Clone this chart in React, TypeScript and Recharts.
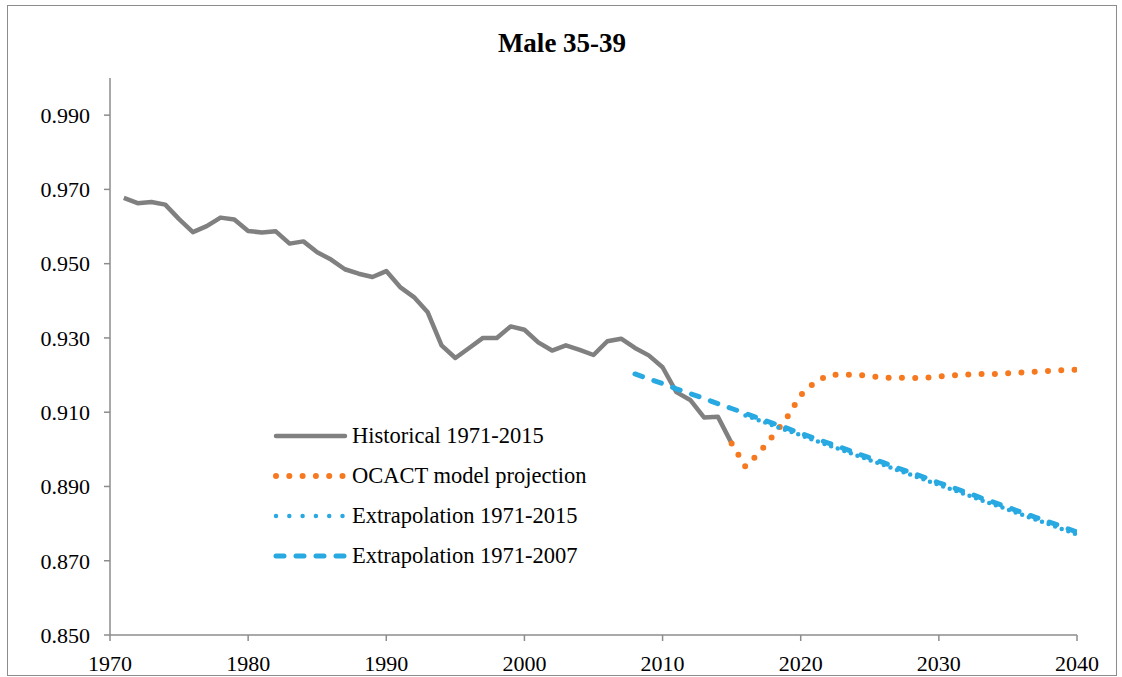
import { LineChart, Line, XAxis, YAxis } from "recharts";

const FONT = "'Liberation Serif', 'Times New Roman', serif";

const histYears = [
  1971, 1972, 1973, 1974, 1975, 1976, 1977, 1978, 1979, 1980, 1981, 1982, 1983, 1984, 1985,
  1986, 1987, 1988, 1989, 1990, 1991, 1992, 1993, 1994, 1995, 1996, 1997, 1998, 1999, 2000,
  2001, 2002, 2003, 2004, 2005, 2006, 2007, 2008, 2009, 2010, 2011, 2012, 2013, 2014, 2015,
];
const historical = [
  0.9677, 0.9663, 0.9666, 0.9659, 0.962, 0.9585, 0.9601, 0.9624, 0.9619, 0.9588, 0.9584,
  0.9587, 0.9554, 0.956, 0.9531, 0.9511, 0.9485, 0.9473, 0.9464, 0.948, 0.9437, 0.941,
  0.9369, 0.928, 0.9246, 0.9273, 0.93, 0.93, 0.9331, 0.9322, 0.9288, 0.9266, 0.928, 0.9268,
  0.9254, 0.9291, 0.9298, 0.9273, 0.9253, 0.9221, 0.9154, 0.9133, 0.9086, 0.9088, 0.9016,
];

// OCACT projection 2015-2040
const ocactStart = 2015;
const ocact = [
  0.9016, 0.8953, 0.8991, 0.9037, 0.9085, 0.9146, 0.918, 0.92, 0.9201, 0.9201, 0.9197,
  0.9193, 0.9193, 0.9192, 0.9193, 0.9196, 0.9199, 0.9201, 0.9203, 0.9203, 0.9205, 0.9207,
  0.9209, 0.9211, 0.9213, 0.9215,
];

// Extrapolation 1971-2015, 2016-2040
const ext15Start = 2016;
const ext15 = [
  0.9091, 0.9078, 0.9064, 0.9051, 0.9038, 0.9024, 0.9011, 0.8998, 0.8984, 0.8971, 0.8958,
  0.8944, 0.8931, 0.8918, 0.8904, 0.8891, 0.8878, 0.8864, 0.8851, 0.8838, 0.8824, 0.8811,
  0.8798, 0.8784, 0.8771,
];

// Extrapolation 1971-2007, 2008-2040
const ext07Start = 2008;
const ext07 = [
  0.9203, 0.919, 0.9177, 0.9163, 0.915, 0.9137, 0.9123, 0.911, 0.9097, 0.9083, 0.907,
  0.9057, 0.9043, 0.903, 0.9017, 0.9004, 0.899, 0.8977, 0.8964, 0.895, 0.8937, 0.8924,
  0.891, 0.8897, 0.8884, 0.887, 0.8857, 0.8844, 0.883, 0.8817, 0.8804, 0.8791, 0.8777,
];

const xTicks = [1970, 1980, 1990, 2000, 2010, 2020, 2030, 2040];
const yTicks = [0.85, 0.87, 0.89, 0.91, 0.93, 0.95, 0.97, 0.99];

const GRAY = "#808080";
const ORANGE = "#F7791F";
const BLUE = "#29A9E1";
const AXIS = "#8c8c8c";

type Row = { year: number; hist?: number; ocact?: number; ext15?: number; ext07?: number };

const rows: Row[] = [];
for (let y = 1971; y <= 2040; y++) rows.push({ year: y });
const at = (y: number) => rows[y - 1971];
histYears.forEach((y, i) => (at(y).hist = historical[i]));
ocact.forEach((v, i) => (at(ocactStart + i).ocact = v));
ext15.forEach((v, i) => (at(ext15Start + i).ext15 = v));
ext07.forEach((v, i) => (at(ext07Start + i).ext07 = v));

const legendItems = [
  { label: "Historical 1971-2015", color: GRAY, width: 4.5, dash: undefined as string | undefined },
  { label: "OCACT model projection", color: ORANGE, width: 6, dash: "0 13.3" },
  { label: "Extrapolation 1971-2015", color: BLUE, width: 4.5, dash: "0 13.3" },
  { label: "Extrapolation 1971-2007", color: BLUE, width: 5, dash: "8 12" },
];

function ChartLegend() {
  return (
    <div
      style={{
        position: "absolute",
        left: 265,
        top: 410,
        fontFamily: FONT,
        fontSize: 22.5,
        color: "#000",
      }}
    >
      {legendItems.map((it) => (
        <div key={it.label} style={{ display: "flex", alignItems: "center", height: 40 }}>
          <svg width={79} height={20} style={{ display: "block" }}>
            <line
              x1={3}
              y1={10}
              x2={72}
              y2={10}
              stroke={it.color}
              strokeWidth={it.width}
              strokeDasharray={it.dash}
              strokeLinecap="round"
            />
          </svg>
          <span style={{ whiteSpace: "nowrap" }}>{it.label}</span>
        </div>
      ))}
    </div>
  );
}

export default function App() {
  return (
    <div
      style={{
        position: "absolute",
        left: 7,
        top: 5,
        width: 1110,
        height: 671,
        boxSizing: "border-box",
        border: `1px solid ${AXIS}`,
        background: "#fff",
      }}
    >
      <div
        style={{
          position: "absolute",
          left: 0,
          right: 0,
          top: 22,
          textAlign: "center",
          fontFamily: FONT,
          fontWeight: "bold",
          fontSize: 27,
          color: "#000",
        }}
      >
        Male 35-39
      </div>
      <LineChart
        width={1108}
        height={669}
        data={rows}
        margin={{ top: 72, right: 39, bottom: 10, left: 22 }}
      >
        <XAxis
          dataKey="year"
          type="number"
          domain={[1970, 2040]}
          ticks={xTicks}
          height={30}
          tickSize={6}
          tickMargin={14}
          axisLine={{ stroke: AXIS, strokeWidth: 1.5 }}
          tickLine={{ stroke: AXIS, strokeWidth: 1.5 }}
          tick={{ fill: "#000", fontSize: 22, fontFamily: FONT }}
          allowDataOverflow
        />
        <YAxis
          type="number"
          domain={[0.85, 1.0]}
          ticks={yTicks}
          width={80}
          tickSize={6}
          tickMargin={14}
          axisLine={{ stroke: AXIS, strokeWidth: 1.5 }}
          tickLine={{ stroke: AXIS, strokeWidth: 1.5 }}
          tick={{ fill: "#000", fontSize: 22, fontFamily: FONT }}
          tickFormatter={(v: number) => v.toFixed(3)}
          allowDataOverflow
        />
        <Line
          dataKey="hist"
          stroke={GRAY}
          strokeWidth={4.5}
          dot={false}
          strokeLinejoin="round"
          isAnimationActive={false}
        />
        <Line
          dataKey="ocact"
          stroke={ORANGE}
          strokeWidth={6}
          strokeDasharray="0 13.3"
          strokeLinecap="round"
          dot={false}
          isAnimationActive={false}
        />
        <Line
          dataKey="ext15"
          stroke={BLUE}
          strokeWidth={4.5}
          strokeDasharray="0 7"
          strokeLinecap="round"
          dot={false}
          isAnimationActive={false}
        />
        <Line
          dataKey="ext07"
          stroke={BLUE}
          strokeWidth={5}
          strokeDasharray="8 12"
          strokeLinecap="round"
          dot={false}
          isAnimationActive={false}
        />
      </LineChart>
      <ChartLegend />
    </div>
  );
}
